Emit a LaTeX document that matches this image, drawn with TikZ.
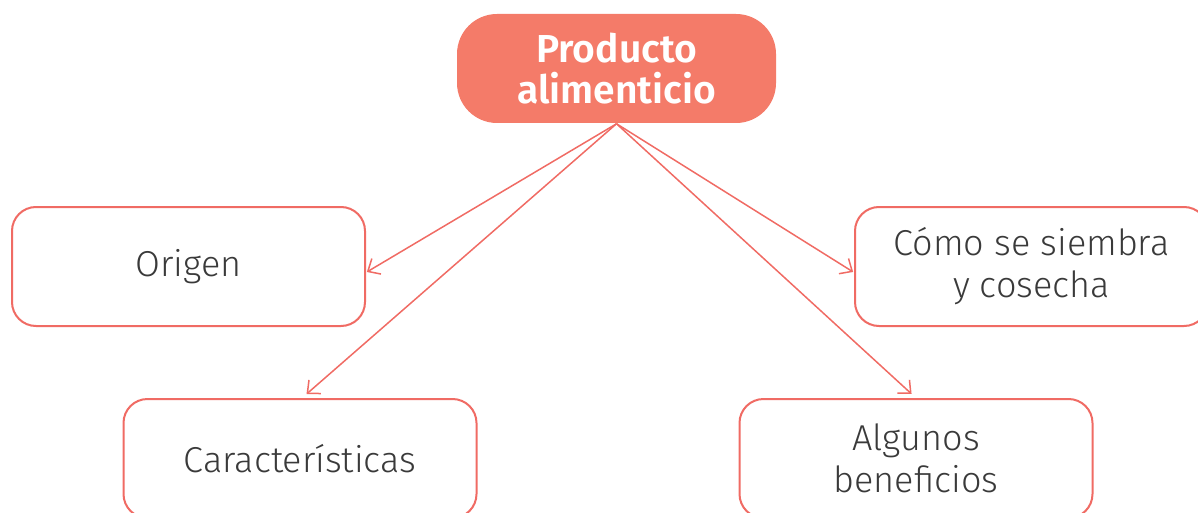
\documentclass[tikz,border=0pt]{standalone}
\usepackage{fontspec}
\setmainfont{Fira Sans Light}
\newfontfamily\titlefont{Fira Sans SemiBold}
\usetikzlibrary{arrows.meta,positioning}

\definecolor{salmon}{HTML}{F47B69}
\definecolor{rim}{HTML}{F06B64}
\definecolor{ink}{HTML}{3A3A3A}

\begin{document}
\begin{tikzpicture}[x=1pt,y=-1pt,
  -{Straight Barb[length=10pt,width=18pt]},shorten >=1pt,line width=1.5pt,draw=rim,
  main node/.style={rectangle,rounded corners=40pt,fill=salmon,draw=none,text=white,
    minimum width=319pt,minimum height=109pt,align=center,
    font=\titlefont\fontsize{39}{41}\selectfont},
  topic node/.style={rectangle,rounded corners=24pt,fill=white,draw=rim,line width=2pt,text=ink,
    minimum width=353pt,minimum height=119pt,align=center,
    font=\fontsize{36}{42}\selectfont}]

  \useasboundingbox (0,0) rectangle (1198,513);

% Knoten
  \node[main node] (prod) at (616.5,68.5) {Producto\\alimenticio};
  \node[topic node] (orig) at (188.5,266.5) {Origen};
  \node[topic node] (siem) at (1031.5,266.5) {Cómo se siembra\\y cosecha};
  \node[topic node] (cara) at (300,458.5) {Características};
  \node[topic node] (bene) at (916,458.5) {Algunos\\beneficios};

% Pfeile
  \path
    (prod.south) edge ([yshift=-6pt]orig.east)
    (prod.south) edge[shorten >=6pt] ([xshift=2pt]cara.north)
    (prod.south) edge ([yshift=-6pt]siem.west)
    (prod.south) edge[shorten >=6pt] (bene.north)
;
\end{tikzpicture}
\end{document}
